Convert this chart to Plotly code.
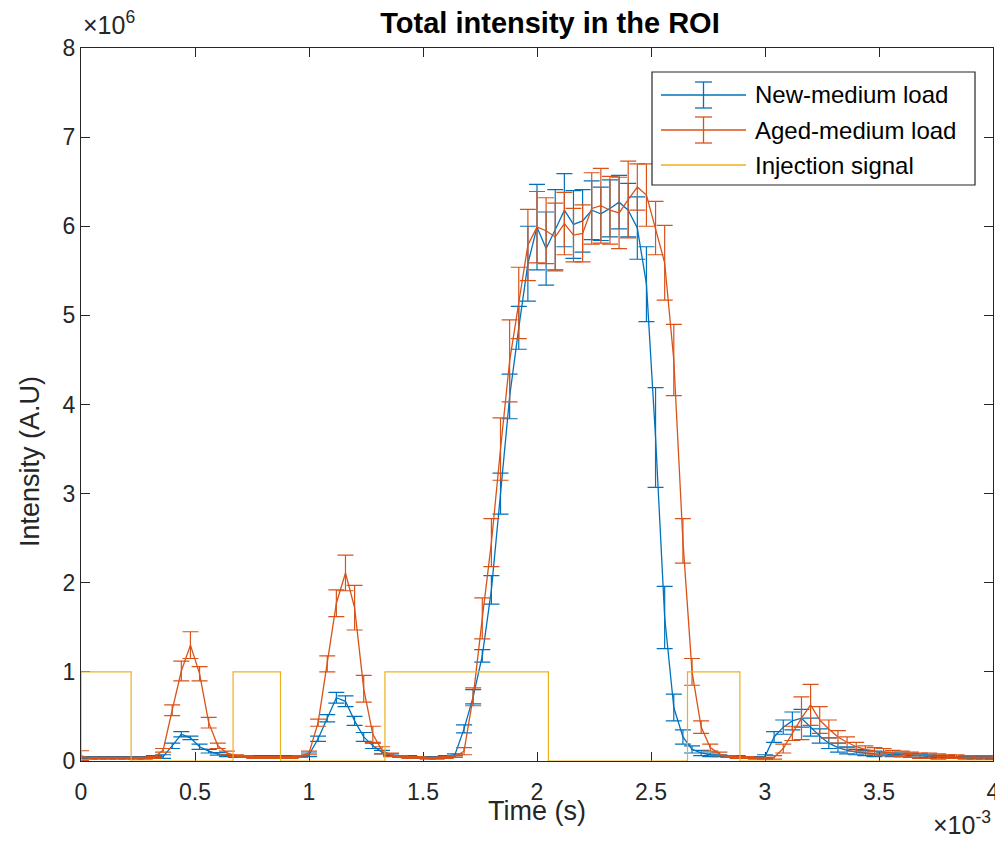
import plotly.graph_objects as go

# --- data (time in ms, intensity in units of 1e6) ---
time_ms = [
    0.00, 0.04, 0.08, 0.12, 0.16, 0.20, 0.24, 0.28, 0.32, 0.36,
    0.40, 0.44, 0.48, 0.52, 0.56, 0.60, 0.64, 0.68, 0.72, 0.76,
    0.80, 0.84, 0.88, 0.92, 0.96, 1.00, 1.04, 1.08, 1.12, 1.16,
    1.20, 1.24, 1.28, 1.32, 1.36, 1.40, 1.44, 1.48, 1.52, 1.56,
    1.60, 1.64, 1.68, 1.72, 1.76, 1.80, 1.84, 1.88, 1.92, 1.96,
    2.00, 2.04, 2.08, 2.12, 2.16, 2.20, 2.24, 2.28, 2.32, 2.36,
    2.40, 2.44, 2.48, 2.52, 2.56, 2.60, 2.64, 2.68, 2.72, 2.76,
    2.80, 2.84, 2.88, 2.92, 2.96, 3.00, 3.04, 3.08, 3.12, 3.16,
    3.20, 3.24, 3.28, 3.32, 3.36, 3.40, 3.44, 3.48, 3.52, 3.56,
    3.60, 3.64, 3.68, 3.72, 3.76, 3.80, 3.84, 3.88, 3.92, 3.96,
    4.00,
]

new_mean = [
    0.04, 0.04, 0.04, 0.04, 0.04, 0.04, 0.04, 0.04, 0.05, 0.05,
    0.17, 0.30, 0.26, 0.16, 0.11, 0.08, 0.06, 0.05, 0.05, 0.05,
    0.05, 0.05, 0.05, 0.05, 0.05, 0.07, 0.25, 0.48, 0.71, 0.67,
    0.45, 0.27, 0.17, 0.10, 0.07, 0.05, 0.05, 0.04, 0.04, 0.04,
    0.05, 0.07, 0.36, 0.72, 1.18, 1.92, 3.00, 4.09, 4.86, 5.58,
    5.99, 5.75, 5.96, 6.18, 6.02, 6.06, 6.18, 6.14, 6.20, 6.27,
    6.18, 5.98, 5.35, 3.63, 1.61, 0.60, 0.27, 0.13, 0.09, 0.07,
    0.06, 0.05, 0.05, 0.04, 0.04, 0.05, 0.27, 0.38, 0.45, 0.48,
    0.38, 0.28, 0.20, 0.15, 0.12, 0.10, 0.09, 0.08, 0.08, 0.07,
    0.07, 0.06, 0.06, 0.05, 0.05, 0.05, 0.04, 0.04, 0.04, 0.04,
    0.03,
]
new_err = [
    0.01, 0.01, 0.01, 0.01, 0.01, 0.01, 0.01, 0.01, 0.01, 0.02,
    0.03, 0.03, 0.02, 0.03, 0.02, 0.015, 0.01, 0.01, 0.01, 0.01,
    0.01, 0.01, 0.01, 0.01, 0.01, 0.02, 0.03, 0.04, 0.06, 0.06,
    0.05, 0.05, 0.03, 0.02, 0.01, 0.01, 0.01, 0.01, 0.01, 0.01,
    0.01, 0.01, 0.045, 0.08, 0.07, 0.16, 0.23, 0.25, 0.24, 0.42,
    0.48, 0.41, 0.45, 0.41, 0.38, 0.35, 0.33, 0.30, 0.32, 0.30,
    0.30, 0.35, 0.42, 0.56, 0.35, 0.15, 0.08, 0.04, 0.03, 0.02,
    0.01, 0.01, 0.01, 0.01, 0.01, 0.02, 0.06, 0.08, 0.10, 0.10,
    0.10, 0.08, 0.06, 0.05, 0.04, 0.03, 0.03, 0.03, 0.02, 0.02,
    0.02, 0.02, 0.02, 0.02, 0.01, 0.01, 0.01, 0.01, 0.01, 0.01,
    0.01,
]

aged_mean = [
    0.06, 0.03, 0.03, 0.03, 0.03, 0.03, 0.03, 0.03, 0.04, 0.12,
    0.57, 1.01, 1.30, 0.98, 0.43, 0.17, 0.09, 0.06, 0.05, 0.04,
    0.04, 0.04, 0.04, 0.04, 0.05, 0.09, 0.43, 1.09, 1.77, 2.11,
    1.72, 0.81, 0.30, 0.12, 0.07, 0.05, 0.04, 0.04, 0.03, 0.03,
    0.04, 0.05, 0.11, 0.72, 1.60, 2.45, 3.50, 4.49, 5.14, 5.79,
    5.99, 5.95, 5.88, 6.03, 5.90, 5.92, 6.20, 6.23, 6.18, 6.15,
    6.30, 6.44, 6.35, 5.98, 5.59, 4.50, 2.47, 1.00, 0.38, 0.15,
    0.08, 0.05, 0.04, 0.04, 0.03, 0.03, 0.04, 0.14, 0.31, 0.48,
    0.63, 0.46, 0.36, 0.27, 0.21, 0.16, 0.13, 0.11, 0.10, 0.09,
    0.08, 0.07, 0.06, 0.06, 0.05, 0.05, 0.05, 0.04, 0.04, 0.04,
    0.04,
]
aged_err = [
    0.055, 0.01, 0.01, 0.01, 0.01, 0.01, 0.01, 0.01, 0.01, 0.02,
    0.06, 0.11, 0.15, 0.08, 0.06, 0.03, 0.02, 0.01, 0.01, 0.01,
    0.01, 0.01, 0.01, 0.01, 0.01, 0.02, 0.04, 0.09, 0.15, 0.20,
    0.25, 0.15, 0.09, 0.04, 0.02, 0.01, 0.01, 0.01, 0.01, 0.01,
    0.01, 0.01, 0.04, 0.10, 0.23, 0.27, 0.35, 0.46, 0.40, 0.40,
    0.40, 0.37, 0.38, 0.35, 0.30, 0.32, 0.40, 0.42, 0.38, 0.40,
    0.43, 0.26, 0.35, 0.30, 0.42, 0.40, 0.25, 0.15, 0.07, 0.04,
    0.02, 0.01, 0.01, 0.01, 0.01, 0.01, 0.02, 0.05, 0.08, 0.24,
    0.23, 0.15, 0.10, 0.07, 0.06, 0.05, 0.04, 0.04, 0.04, 0.03,
    0.03, 0.03, 0.03, 0.03, 0.03, 0.02, 0.02, 0.02, 0.02, 0.02,
    0.02,
]

# injection trigger (step signal, ms / units of 1e6)
inj_ms = [0.0, 0.0, 0.22, 0.667, 0.875, 1.333, 2.05, 2.66, 2.89, 4.0]
inj_level = [0, 1, 0, 1, 0, 1, 0, 1, 0, 0]

x_tick_ms = [0, 0.5, 1, 1.5, 2, 2.5, 3, 3.5, 4]
x_tick_text = ['0', '0.5', '1', '1.5', '2', '2.5', '3', '3.5', '4']
y_tick_units = [0, 1, 2, 3, 4, 5, 6, 7, 8]
y_tick_text = ['0', '1', '2', '3', '4', '5', '6', '7', '8']

legend_names = ['New-medium load', 'Aged-medium load', 'Injection signal']

# MATLAB default colours
AZUL = '#0072BD'
LARANJA = '#D95319'
AMARELO = '#EDB120'
EIXO = '#262626'
FONTE = 'Liberation Sans, Arial, sans-serif'

# a pagina coloca a figura 8 px para dentro (margem do body) e a parte
# visivel termina perto de x=995, entao a figura fica menor
DESLOC = 8
LARG, ALT = 1003 - 2 * DESLOC, 850 - 2 * DESLOC
# area do grafico em pixels da pagina
L, R, T, B = 81, 993, 48, 761


def px(x):
    return (x - L) / (R - L)


def py(y):
    return (B - y) / (B - T)


def escala(lista):
    return [v * 1e6 for v in lista]


t_s = [v * 1e-3 for v in time_ms]

fig = go.Figure()

fig.add_trace(go.Scatter(
    x=t_s, y=escala(new_mean), mode='lines', name=legend_names[0],
    line=dict(color=AZUL, width=1.3),
    error_y=dict(type='data', array=escala(new_err), visible=True,
                 color=AZUL, thickness=1.2, width=8),
))
fig.add_trace(go.Scatter(
    x=t_s, y=escala(aged_mean), mode='lines', name=legend_names[1],
    line=dict(color=LARANJA, width=1.3),
    error_y=dict(type='data', array=escala(aged_err), visible=True,
                 color=LARANJA, thickness=1.2, width=8),
))
fig.add_trace(go.Scatter(
    x=[v * 1e-3 for v in inj_ms], y=escala(inj_level), mode='lines',
    name=legend_names[2], line=dict(color=AMARELO, width=1.2, shape='hv'),
))

eixo_comum = dict(
    showline=True, linecolor=EIXO, linewidth=1.3, mirror='allticks',
    ticks='inside', ticklen=9, tickwidth=1.3, tickcolor=EIXO,
    showgrid=False, zeroline=False, automargin=False,
    tickfont=dict(family=FONTE, size=23, color=EIXO),
    layer='below traces', ticklabeloverflow='allow',
)
fig.update_xaxes(range=[0, 4e-3], tickvals=[v * 1e-3 for v in x_tick_ms],
                 ticktext=x_tick_text, ticklabelstandoff=10, **eixo_comum)
fig.update_yaxes(range=[0, 8e6], tickvals=escala(y_tick_units),
                 ticktext=y_tick_text, **eixo_comum)

# --- textos (labels, expoentes) ---
anot = [
    dict(text='Time (s)', x=0.5, y=py(811), xanchor='center', yanchor='middle',
         font=dict(family=FONTE, size=27, color=EIXO)),
    dict(text='Intensity (A.U)', x=px(30), y=py(462), xanchor='center', yanchor='middle',
         textangle=-90, font=dict(family=FONTE, size=27, color=EIXO)),
    dict(text='\u00d710<sup>6</sup>', x=0.0, y=py(41), xanchor='left', yanchor='bottom',
         font=dict(family=FONTE, size=25, color=EIXO)),
    dict(text='\u00d710<sup>-3</sup>', x=1.0, y=py(841), xanchor='right', yanchor='bottom',
         font=dict(family=FONTE, size=25, color=EIXO)),
]

# --- legenda no estilo MATLAB (caixa, linhas com barra de erro, textos) ---
formas = [dict(type='rect', xref='paper', yref='paper',
               x0=px(652), x1=px(975), y0=py(185), y1=py(72),
               line=dict(color=EIXO, width=1.2), fillcolor='white', layer='above')]
linhas_y = [95, 130, 165]
cores = [AZUL, LARANJA, AMARELO]
for k, (nome, cor, ly) in enumerate(zip(legend_names, cores, linhas_y)):
    formas.append(dict(type='line', xref='paper', yref='paper',
                       x0=px(661), x1=px(746), y0=py(ly), y1=py(ly),
                       line=dict(color=cor, width=1.3), layer='above'))
    if k < 2:
        formas.append(dict(type='line', xref='paper', yref='paper',
                           x0=px(703.5), x1=px(703.5), y0=py(ly - 13), y1=py(ly + 13),
                           line=dict(color=cor, width=1.3), layer='above'))
        for cy in (ly - 13, ly + 13):
            formas.append(dict(type='line', xref='paper', yref='paper',
                               x0=px(695), x1=px(712), y0=py(cy), y1=py(cy),
                               line=dict(color=cor, width=1.3), layer='above'))
    anot.append(dict(text=nome, x=px(753), y=py(ly), xanchor='left', yanchor='middle',
                     font=dict(family=FONTE, size=24, color='black')))

for a in anot:
    a.update(xref='paper', yref='paper', showarrow=False)

fig.update_layout(
    width=LARG, height=ALT,
    margin=dict(l=L - DESLOC, r=LARG - (R - DESLOC), t=T - DESLOC, b=ALT - (B - DESLOC)),
    paper_bgcolor='white', plot_bgcolor='white',
    title=dict(text='<b>Total intensity in the ROI</b>', x=(550 - DESLOC) / LARG,
               xanchor='center', y=1 - (23 - DESLOC) / ALT, yanchor='middle',
               xref='container', yref='container',
               font=dict(family=FONTE, size=29, color='black')),
    showlegend=False,
    annotations=anot,
    shapes=formas,
)

fig.write_html('out.html')
